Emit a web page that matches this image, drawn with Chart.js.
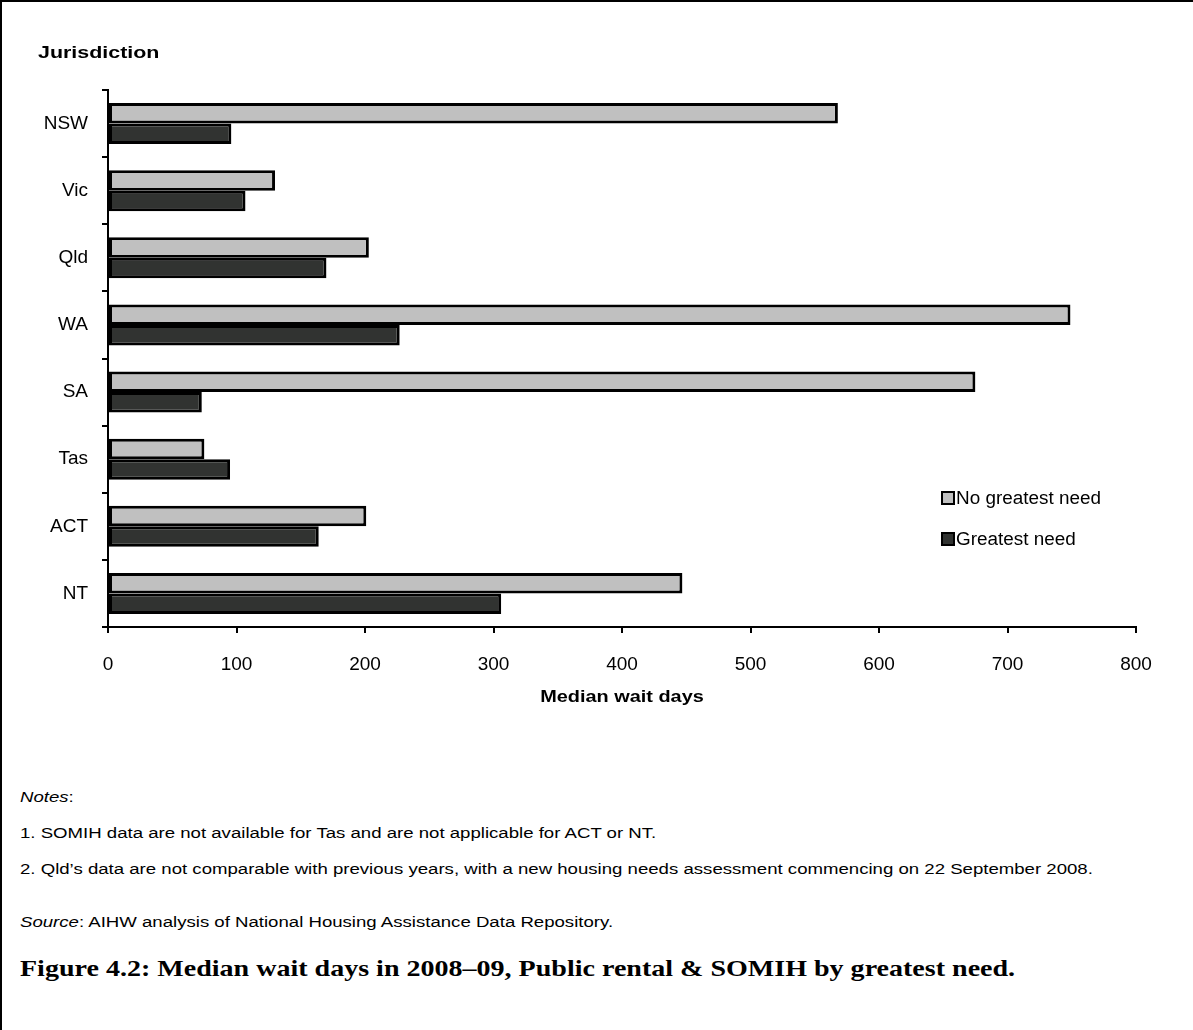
<!DOCTYPE html>
<html>
<head>
<meta charset="utf-8">
<title>Median wait days 2008-09</title>
<script src="https://cdn.jsdelivr.net/npm/chart.js@4.4.1/dist/chart.umd.min.js"></script>
<style>
    body { margin: 0; background: #fff; }
    #page { position: relative; width: 1193px; height: 1030px; overflow: hidden; background: #fff; }
    #chartCanvas { position: absolute; left: 0; top: 0; }
    .edge { position: absolute; background: #000; }
    .note { position: absolute; left: 20px; font-family: "Liberation Sans", Arial, sans-serif; font-size: 15.5px; color: #000; white-space: nowrap; transform: scaleX(1.2); transform-origin: left top; }
    #caption { position: absolute; left: 20px; top: 955px; font-family: "Liberation Serif", "Times New Roman", serif; font-weight: bold; font-size: 24px; color: #000; white-space: nowrap; transform: scaleX(1.168); transform-origin: left top; }
</style>
</head>
<body>
<div id="page">
    <div class="edge" style="left:0;top:0;width:1193px;height:2px"></div>
    <div class="edge" style="left:0;top:0;width:2px;height:1030px"></div>
    <canvas id="chartCanvas" width="1193" height="740"></canvas>
    <div class="note" style="top:788px"><i>Notes</i>:</div>
    <div class="note" style="top:824px">1. SOMIH data are not available for Tas and are not applicable for ACT or NT.</div>
    <div class="note" style="top:860px">2. Qld’s data are not comparable with previous years, with a new housing needs assessment commencing on 22 September 2008.</div>
    <div class="note" style="top:913px"><i>Source</i>: AIHW analysis of National Housing Assistance Data Repository.</div>
    <div id="caption">Figure 4.2: Median wait days in 2008–09, Public rental &amp; SOMIH by greatest need.</div>
</div>
<script>
const jurisdictions = ["NSW", "Vic", "Qld", "WA", "SA", "Tas", "ACT", "NT"]
const noGreatestNeed = [568, 130, 203, 749, 675, 75, 201, 447]
const greatestNeed = [96, 107, 170, 227, 73, 95, 164, 306]
const xTicks = [0, 100, 200, 300, 400, 500, 600, 700, 800]

const FONT = "'Liberation Sans', Arial, sans-serif"

/**
 * Wide text helper: the headings use a stretched face, so scale the context horizontally
 */
const drawWide = (ctx, text, x, y, stretch, align) => {
    ctx.save()
    ctx.translate(x, y)
    ctx.scale(stretch, 1)
    ctx.textAlign = align
    ctx.fillText(text, 0, 0)
    ctx.restore()
}

/**
 * Draws the axis headings and the legend box inside the plot
 */
const extrasPlugin = {
    id: "extras",
    afterDraw(chart) {
        const ctx = chart.ctx
        const area = chart.chartArea
        ctx.save()
        ctx.fillStyle = "#000"
        ctx.textBaseline = "middle"

        ctx.font = "bold 17px " + FONT
        drawWide(ctx, "Jurisdiction", 38, 53, 1.26, "left")
        drawWide(ctx, "Median wait days", (area.left + area.right) / 2, 697, 1.17, "center")

        ctx.font = "18px " + FONT
        chart.data.datasets.forEach((ds, i) => {
            const x = area.right - 194
            const y = area.top + 408 + i * 41
            ctx.fillStyle = ds.backgroundColor
            ctx.fillRect(x, y - 6, 12, 12)
            ctx.lineWidth = 2
            ctx.strokeStyle = "#000"
            ctx.strokeRect(x, y - 6, 12, 12)
            ctx.fillStyle = "#000"
            drawWide(ctx, ds.label, x + 14, y + 1, 1.05, "left")
        })
        ctx.restore()
    }
}

new Chart(document.getElementById("chartCanvas"), {
    type: "bar",
    data: {
        labels: jurisdictions,
        datasets: [{
            label: "No greatest need",
            data: noGreatestNeed,
            backgroundColor: "#c0c0c0",
            borderColor: "#000",
            borderWidth: 3,
            borderSkipped: false
        }, {
            label: "Greatest need",
            data: greatestNeed,
            backgroundColor: "#313331",
            borderColor: "#000",
            borderWidth: 3,
            borderSkipped: false
        }]
    },
    options: {
        indexAxis: "y",
        responsive: false,
        animation: false,
        layout: { padding: { top: 90, right: 57, left: 0, bottom: 0 } },
        datasets: { bar: { categoryPercentage: 0.61, barPercentage: 1.0 } },
        scales: {
            x: {
                min: 0,
                max: 800,
                afterBuildTicks: scale => { scale.ticks = xTicks.map(v => ({ value: v })) },
                border: { display: true, color: "#000", width: 2 },
                grid: { drawOnChartArea: false, drawTicks: true, tickLength: 6, color: "#000", lineWidth: 2 },
                ticks: { color: "#000", font: { family: FONT, size: 19 }, padding: 20, maxRotation: 0 },
                afterFit: scale => { scale.height = 113 }
            },
            y: {
                border: { display: true, color: "#000", width: 2 },
                grid: { drawOnChartArea: false, drawTicks: true, tickLength: 6, color: "#000", lineWidth: 2, offset: true },
                ticks: { color: "#000", font: { family: FONT, size: 19 }, padding: 14 },
                afterFit: scale => { scale.width = 108 }
            }
        },
        plugins: {
            legend: { display: false },
            tooltip: { enabled: false }
        }
    },
    plugins: [extrasPlugin]
})
</script>
</body>
</html>
